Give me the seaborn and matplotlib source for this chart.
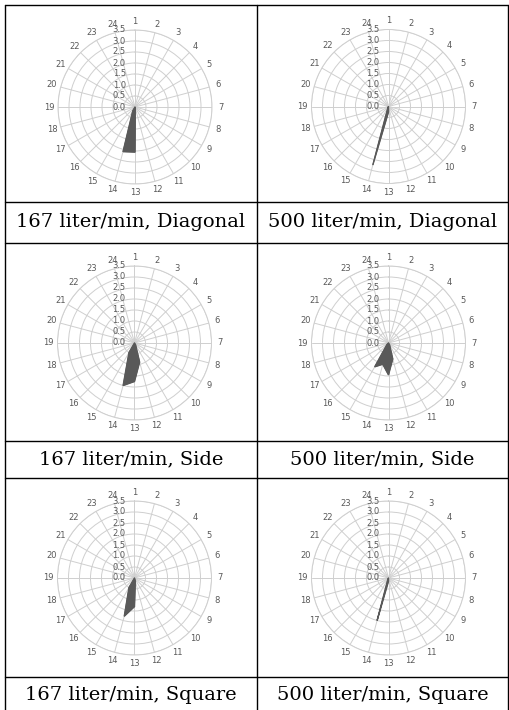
import numpy as np
import matplotlib
matplotlib.use("Agg")
import matplotlib.pyplot as plt
import seaborn as sns

# 24 measuring directions around the radar
categories = ["1", "2", "3", "4", "5", "6", "7", "8", "9", "10", "11", "12",
              "13", "14", "15", "16", "17", "18", "19", "20", "21", "22", "23", "24"]
r_ticks = [0.0, 0.5, 1.0, 1.5, 2.0, 2.5, 3.0, 3.5]

# values per direction (index 0 = direction 1)
diag_167 = [0, 0, 0, 0, 0, 0, 0, 0, 0, 0, 0, 0.05, 2.05, 2.1, 0.2, 0, 0, 0, 0, 0, 0, 0, 0, 0]
diag_500 = [0, 0, 0, 0, 0, 0, 0, 0, 0, 0, 0, 0, 0.25, 2.75, 0.05, 0, 0, 0, 0, 0, 0, 0, 0, 0]
side_167 = [0, 0, 0, 0, 0, 0, 0, 0, 0, 0, 0.1, 0.9, 1.75, 2.0, 0.5, 0, 0, 0, 0, 0, 0, 0, 0, 0]
side_500 = [0, 0, 0, 0, 0, 0, 0, 0, 0, 0, 0.1, 0.75, 1.45, 1.0, 1.25, 0.1, 0, 0, 0, 0, 0, 0, 0, 0]
square_167 = [0, 0, 0, 0, 0, 0, 0, 0, 0, 0, 0, 0.15, 1.3, 1.8, 0.5, 0, 0, 0, 0, 0, 0, 0, 0, 0]
square_500 = [0, 0, 0, 0, 0, 0, 0, 0, 0, 0, 0, 0, 0.15, 2.0, 0.05, 0, 0, 0, 0, 0, 0, 0, 0, 0]

captions = ["167 liter/min, Diagonal", "500 liter/min, Diagonal",
            "167 liter/min, Side", "500 liter/min, Side",
            "167 liter/min, Square", "500 liter/min, Square"]
series = [diag_167, diag_500, side_167, side_500, square_167, square_500]

sns.set_theme(style="white")
W, H = 510, 710
fig = plt.figure(figsize=(W / 100, H / 100), dpi=100)
fig.patch.set_facecolor("white")

# table frame drawn in pixel coordinates
frame = fig.add_axes([0, 0, 1, 1])
frame.set_xlim(0, W)
frame.set_ylim(H, 0)
frame.axis("off")
x_left, x_mid, x_right = 5, 257, 508
for y in [5, 202, 243, 441, 478, 677]:
    frame.plot([x_left, x_right], [y, y], color="black", lw=1.0)
for x in [x_left, x_mid, x_right]:
    frame.plot([x, x], [5, H], color="black", lw=1.0)

col_centers = [(x_left + x_mid) / 2, (x_mid + x_right) / 2]
caption_y = [222, 459.5, 695]
chart_centers = [(135, 107), (388.5, 106.5), (134.5, 343), (388.5, 343), (134.5, 578), (388.5, 578)]
radius = 77

theta = np.linspace(0, 2 * np.pi, len(categories), endpoint=False)
grey = "#595959"
grid_c = "#cfcfcf"

for i, vals in enumerate(series):
    cx, cy = chart_centers[i]
    ax = fig.add_axes([(cx - radius) / W, 1 - (cy + radius) / H, 2 * radius / W, 2 * radius / H],
                      projection="polar")
    ax.set_theta_zero_location("N")
    ax.set_theta_direction(-1)
    ax.set_facecolor("white")
    ax.set_ylim(0, 3.5)
    ax.set_yticks(r_ticks)
    ax.set_yticklabels([])
    ax.set_xticks(theta)
    ax.set_xticklabels([])
    ax.grid(True, color=grid_c, lw=0.7)
    ax.spines["polar"].set_color(grid_c)
    ax.spines["polar"].set_linewidth(0.7)
    for t, lab in zip(theta, categories):
        ax.text(t, 3.9, lab, ha="center", va="center", fontsize=6, color=grey, clip_on=False)
    for r in r_ticks:
        ax.annotate(f"{r:.1f}", xy=(0, r), xytext=(-6.5, 0), textcoords="offset points",
                    ha="right", va="center", fontsize=6, color=grey)

    v = np.array(vals, dtype=float)
    t_closed = np.append(theta, theta[0])
    v_closed = np.append(v, v[0])
    ax.fill(t_closed, v_closed, color=grey, zorder=3)
    sns.lineplot(x=t_closed, y=v_closed, ax=ax, sort=False, color=grey, lw=0.6, zorder=3)

    frame.text(col_centers[i % 2], caption_y[i // 2], captions[i], ha="center", va="center",
               fontsize=14, family="DejaVu Serif", color="black")

fig.savefig("out.png", dpi=100, facecolor="white")
